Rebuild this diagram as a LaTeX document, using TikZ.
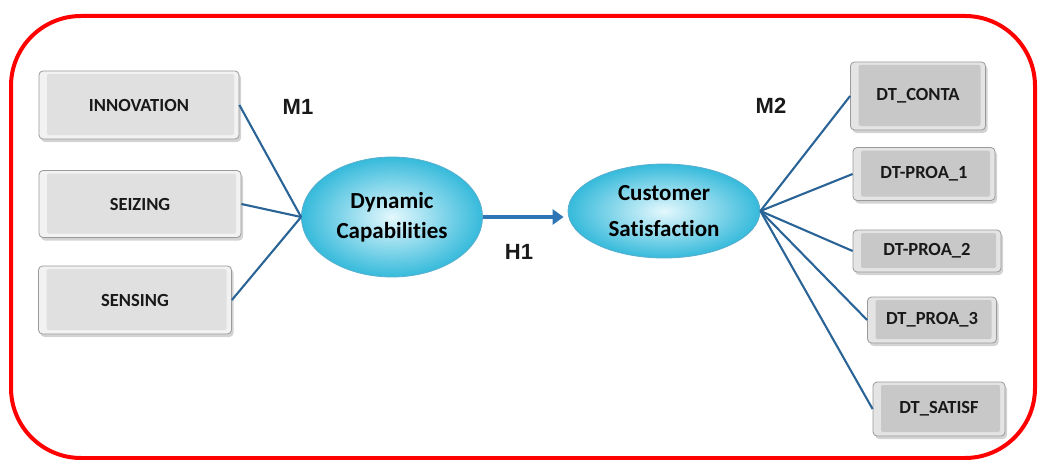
\documentclass[tikz,border=0pt]{standalone}
\usepackage{fontspec}
\setmainfont[Ligatures=NoCommon]{Carlito}
\newfontfamily\arialf{Liberation Sans}
\usetikzlibrary{shadows,arrows.meta,shapes.geometric}
\definecolor{linkblue}{HTML}{2A6496}
\definecolor{arrowblue}{HTML}{2E75B6}
\definecolor{ellin}{HTML}{E4F8FD}
\definecolor{ellout}{HTML}{36BADB}
\definecolor{elledge}{HTML}{5AAFCF}
\definecolor{lface}{HTML}{E0E0E0}
\definecolor{lrim}{HTML}{F2F2F2}
\definecolor{rface}{HTML}{C8C8C8}
\definecolor{rrim}{HTML}{E4E4E4}
\definecolor{boxedge}{HTML}{9A9A9A}
\begin{document}
\begin{tikzpicture}[x=1pt,y=-1pt,
  boxbase/.style={rectangle, rounded corners=4pt, draw=boxedge, line width=0.8pt,
    font=\fontsize{18.5}{20}\selectfont\bfseries, text=black!90,
    drop shadow={shadow xshift=2pt, shadow yshift=-3pt, opacity=0.35}},
  lbox/.style={boxbase, fill=lrim,
    path picture={\fill[lface, rounded corners=2pt]
      ([shift={(8pt,4pt)}]path picture bounding box.south west) rectangle
      ([shift={(-5pt,-3pt)}]path picture bounding box.north east);}},
  rbox/.style={boxbase, fill=rrim,
    path picture={\fill[rface, rounded corners=2pt]
      ([shift={(8pt,4pt)}]path picture bounding box.south west) rectangle
      ([shift={(-5pt,-3pt)}]path picture bounding box.north east);}},
  construct/.style={ellipse, draw=elledge, line width=0.8pt, inner color=ellin, outer color=ellout,
    align=center, font=\fontsize{23}{30}\selectfont\bfseries, inner sep=0pt},
  link/.style={draw=linkblue, line width=2.1pt},
  lab/.style={font=\arialf\fontsize{22}{24}\selectfont\bfseries, text=black!90}
]
\useasboundingbox (0,0) rectangle (1041,460);
\draw[red, line width=4pt, rounded corners=70pt] (11,16) rectangle (1035,458);

% left boxes
\node[lbox, minimum width=200pt, minimum height=68pt] (innov) at (139,105) {INNOVATION};
\node[lbox, minimum width=202pt, minimum height=67pt] (seiz) at (140,204) {SEIZING};
\node[lbox, minimum width=193pt, minimum height=68pt] (sens) at (135,300) {SENSING};

% right boxes
\node[rbox, minimum width=135pt, minimum height=68pt] (conta) at (918,96) {DT\_CONTA};
\node[rbox, minimum width=142pt, minimum height=53pt] (proa1) at (924,174) {DT-PROA\_1};
\node[rbox, minimum width=148pt, minimum height=42pt] (proa2) at (927,251) {DT-PROA\_2};
\node[rbox, minimum width=129pt, minimum height=46pt] (proa3) at (932,320) {DT\_PROA\_3};
\node[rbox, minimum width=132pt, minimum height=54pt] (satisf) at (939,409) {DT\_SATISF};

% constructs
\node[construct, minimum width=181pt, minimum height=120pt] (dc) at (392,217) {Dynamic\\Capabilities};
\node[construct, minimum width=192pt, minimum height=94pt, font=\fontsize{23}{36}\selectfont\bfseries] (cs) at (664,211) {Customer\\Satisfaction};

% links
\draw[link] (innov.east) -- (dc.west);
\draw[link] (seiz.east) -- (dc.west);
\draw[link] (sens.east) -- (dc.west);
\draw[link] (cs.east) -- (conta.west);
\draw[link] (cs.east) -- (proa1.west);
\draw[link] (cs.east) -- (proa2.west);
\draw[link] (cs.east) -- (proa3.west);
\draw[link] (cs.east) -- (satisf.west);

% structural path
\draw[arrowblue, line width=4pt, -{Triangle[length=11pt,width=15pt]}, shorten >=4pt]
  (dc.east) -- (cs.west |- dc.east);

% labels
\node[lab] (m1) at (298,107) {M1};
\node[lab] (m2) at (771,106) {M2};
\node[lab] (h1) at (519,252) {H1};
\end{tikzpicture}
\end{document}
